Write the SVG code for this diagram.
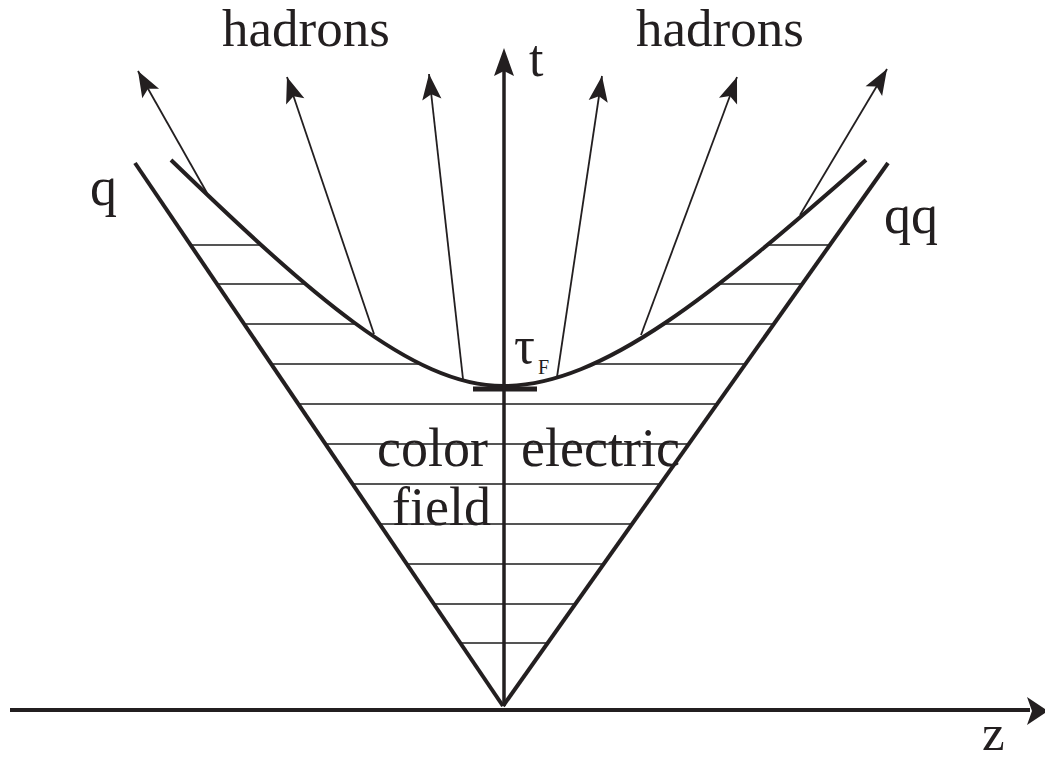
<svg xmlns="http://www.w3.org/2000/svg" width="1045" height="759" viewBox="0 0 1045 759">
<style>
.txt{font-family:"Liberation Serif","Times New Roman","DejaVu Serif",serif;fill:#231f20}
.big{font-size:54px}
.thick{stroke:#231f20;stroke-width:4;fill:none}
.field{stroke:#555;stroke-width:2}
.had{stroke:#231f20;stroke-width:1.8;fill:none;marker-end:url(#ah)}
</style>
<defs>
<marker id="ah" markerUnits="userSpaceOnUse" orient="auto" refX="0" refY="0" markerWidth="30" markerHeight="30" viewBox="-26 -10 28 20" overflow="visible">
<path d="M0,0 L-24,-9 L-19,0 L-24,9 Z" fill="#231f20"/>
</marker>
<clipPath id="fieldclip">
<path d="M503,706 L135,163 L171,160 C308,292 411.5,386 503,386 C603,386 716,292 866,160 L888,163 Z"/>
</clipPath>
</defs>
<rect width="1045" height="759" fill="#fff"/>
<g id="field-lines" clip-path="url(#fieldclip)">
<line class="field" x1="100" y1="245" x2="950" y2="245"/>
<line class="field" x1="100" y1="284" x2="950" y2="284"/>
<line class="field" x1="100" y1="324" x2="950" y2="324"/>
<line class="field" x1="100" y1="364" x2="950" y2="364"/>
<line class="field" x1="100" y1="404" x2="950" y2="404"/>
<line class="field" x1="100" y1="444" x2="950" y2="444"/>
<line class="field" x1="100" y1="484" x2="950" y2="484"/>
<line class="field" x1="100" y1="524" x2="950" y2="524"/>
<line class="field" x1="100" y1="564" x2="950" y2="564"/>
<line class="field" x1="100" y1="604" x2="950" y2="604"/>
<line class="field" x1="100" y1="643" x2="950" y2="643"/>
</g>
<g id="connectors">
<line class="thick" x1="135" y1="163" x2="503" y2="706"/>
<line class="thick" x1="888" y1="163" x2="503" y2="706"/>
<path class="thick" d="M171,160 C308,292 411.5,386 503,386 C603,386 716,292 866,160"/>
<line x1="473" y1="389" x2="537" y2="389" stroke="#231f20" stroke-width="5"/>
<line class="had" x1="207" y1="193" x2="138" y2="71"/>
<line class="had" x1="374" y1="334" x2="287" y2="77"/>
<line class="had" x1="463" y1="379" x2="429" y2="74"/>
<line class="had" x1="557" y1="377" x2="602" y2="76"/>
<line class="had" x1="641" y1="335" x2="737" y2="77"/>
<line class="had" x1="800" y1="215" x2="887" y2="69"/>
<line x1="10" y1="710" x2="1030" y2="710" stroke="#231f20" stroke-width="4"/>
<path d="M1048,711 L1027,697 L1032,711 L1027,725 Z" fill="#231f20"/>
<line x1="504" y1="706" x2="504" y2="70" stroke="#231f20" stroke-width="3.5"/>
<path d="M504,48 L494,76 L504,71 L514,76 Z" fill="#231f20"/>
</g>
<g id="labels">
<text class="txt" x="222" y="46" font-size="53">hadrons</text>
<text class="txt" x="636" y="46" font-size="53">hadrons</text>
<text class="txt" x="529" y="76" font-size="52">t</text>
<text class="txt big" x="90" y="205">q</text>
<text class="txt big" x="884" y="233">qq</text>
<text class="txt" x="982" y="750" font-size="51">z</text>
<text class="txt" x="514" y="363" font-size="52">τ</text>
<text class="txt" x="538" y="374" font-size="20">F</text>
<text class="txt big" x="377" y="466">color</text>
<text class="txt big" x="521" y="466">electric</text>
<text class="txt big" x="392" y="525">field</text>
</g>
</svg>
